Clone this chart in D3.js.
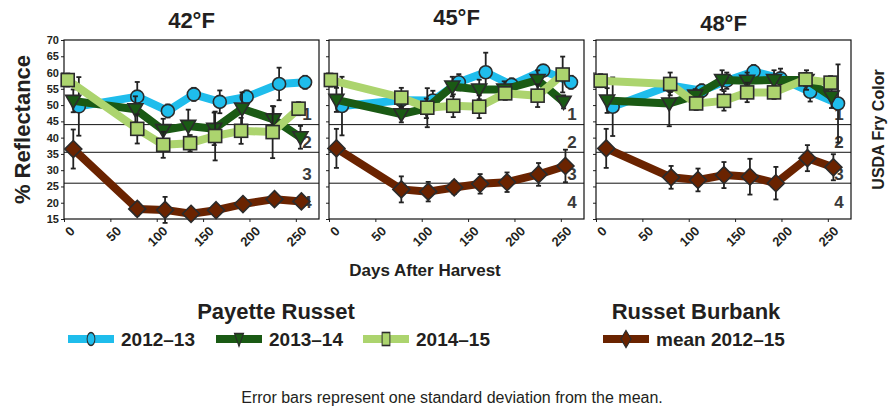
<!DOCTYPE html>
<html lang="en">
<head>
    <meta charset="UTF-8">
    <title>Fry color reflectance</title>
    <script src="https://cdn.jsdelivr.net/npm/d3@7/dist/d3.min.js"></script>
    <style>
        body { margin: 0; background: #fff; }
        text { font-family: "Liberation Sans", Arial, sans-serif; fill: #231f20; }
    </style>
</head>
<body>
<script>
// panel titles (storage temperature)
var panels = ["42°F", "45°F", "48°F"];
var xTicks = [0, 50, 100, 150, 200, 250];
var yTicks = [15, 20, 25, 30, 35, 40, 45, 50, 55, 60, 65, 70];

// USDA fry color zone borders and labels
var zoneLines = [44, 35.5, 26];
var zoneNames = ["1", "2", "3", "4"];
var zoneLabelY = [47.3, 38.8, 29, 20.3];

// Payette Russet 2012-13
var dayBlue = [[16, 79, 112, 140, 168, 197, 232, 260], [14, 78, 112, 140, 169, 197, 231, 261], [18, 80, 114, 141, 170, 199, 231, 261]];
var valBlue = [[49.6, 52.6, 48.2, 53.3, 51.0, 52.5, 56.5, 57.0], [49.7, 51.5, 51.4, 57.0, 60.1, 56.2, 60.6, 57.0], [49.5, 56.0, 54.4, 57.5, 60.3, 58.2, 54.1, 50.5]];
var errBlue = [[9, 4.5, 2, 2, 3.5, 2, 5, 2], [9, 2, 3, 2.5, 6, 2, 1.5, 2], [9, 2, 2, 2.5, 2, 3, 3, 12]];

// Payette Russet 2013-14
var dayDark = [[10, 77, 107, 134, 162, 192, 226, 255], [8, 78, 105, 133, 162, 189, 225, 253], [12, 79, 107, 136, 163, 192, 227, 254]];
var valDark = [[51.3, 48.7, 42.3, 43.6, 42.7, 48.9, 45.6, 40.1], [51.6, 47.2, 49.0, 55.7, 54.8, 54.8, 57.7, 51.0], [51.4, 50.5, 52.9, 57.7, 57.5, 57.7, 57.7, 52.6]];
var errDark = [[3.5, 4, 3.5, 5, 5, 5, 4, 3.5], [3.7, 2.5, 3, 3, 3, 2.5, 3, 2], [3.8, 7, 2, 3, 2.5, 3, 3, 3.5]];

// Payette Russet 2014-15
var dayLight = [[4, 79, 107, 136, 163, 191, 225, 253], [2, 78, 106, 134, 162, 190, 225, 252], [5, 80, 108, 138, 163, 192, 226, 253]];
var valLight = [[57.7, 42.7, 37.8, 38.3, 40.5, 42.1, 41.7, 48.9], [57.7, 52.3, 49.2, 49.8, 49.5, 53.6, 52.9, 59.4], [57.5, 56.5, 50.5, 51.3, 53.9, 53.9, 57.9, 56.9]];
var errLight = [[2, 4.5, 4, 2.5, 7.5, 4, 8, 2], [2, 3, 6, 3.5, 3.5, 2, 3.5, 5.5], [2, 3.5, 2, 3, 3, 2, 2, 2]];

// Russet Burbank mean 2012-15
var dayBrown = [[10, 79, 109, 137, 164, 193, 227, 256], [8, 78, 107, 135, 163, 192, 226, 255], [11, 81, 110, 138, 166, 194, 228, 256]];
var valBrown = [[36.5, 18.1, 17.8, 16.6, 17.7, 19.6, 21.1, 20.4], [36.7, 24.1, 23.4, 24.7, 25.8, 26.3, 28.7, 31.3], [36.7, 27.8, 27.0, 28.5, 28.0, 26.0, 33.7, 30.9]];
var errBrown = [[6, 2, 4, 1.5, 1.5, 1.5, 1.5, 1.5], [6, 4, 3, 2, 3, 3, 3.5, 5], [6, 3.5, 3.5, 4, 5.5, 5, 4, 4]];

var width = 895, height = 408;
var plotTop = 40, plotBottom = 219, plotW = 255;
var lefts = [64, 329, 596];

var series = [
    {name: "2012\u201313", color: "#1fbdec", shape: "circle", days: dayBlue, vals: valBlue, errs: errBlue},
    {name: "2013\u201314", color: "#1a5a14", shape: "triangle", days: dayDark, vals: valDark, errs: errDark},
    {name: "2014\u201315", color: "#acd46e", shape: "square", days: dayLight, vals: valLight, errs: errLight},
    {name: "mean 2012\u201315", color: "#6a2300", shape: "diamond", days: dayBrown, vals: valBrown, errs: errBrown}
];

var svg = d3.select("body").append("svg")
    .attr("width", width)
    .attr("height", height);

var y = d3.scaleLinear().domain([15, 70]).range([plotBottom, plotTop]);

function marker(g, shape, color) {
    if (shape == "circle") {
        g.append("circle").attr("r", 6.5);
    } else if (shape == "triangle") {
        g.append("path").attr("d", "M-7.5,-5.5L7.5,-5.5L0,7.5Z");
    } else if (shape == "square") {
        g.append("rect").attr("x", -6.5).attr("y", -6.5).attr("width", 13).attr("height", 13);
    } else {
        g.append("path").attr("d", "M0,-8.5L8.5,0L0,8.5L-8.5,0Z");
    }
    g.selectAll("*")
        .attr("fill", color)
        .attr("stroke", "#2b2b2b")
        .attr("stroke-width", 1.6);
}

panels.forEach(function (title, p) {
    var x = d3.scaleLinear().domain([0, 275]).range([lefts[p], lefts[p] + plotW]);
    var g = svg.append("g");

    // zone lines
    g.selectAll(".zone")
        .data(zoneLines)
        .enter().append("line")
        .attr("x1", lefts[p]).attr("x2", lefts[p] + plotW)
        .attr("y1", function (d) { return y(d); })
        .attr("y2", function (d) { return y(d); })
        .attr("stroke", "#111")
        .attr("stroke-width", 1);

    g.selectAll(".zlab")
        .data(zoneNames)
        .enter().append("text")
        .attr("x", lefts[p] + plotW - 12)
        .attr("y", function (d, i) { return y(zoneLabelY[i]); })
        .attr("dy", "0.36em")
        .attr("text-anchor", "middle")
        .style("font-size", "17px")
        .style("font-weight", "bold")
        .style("fill", "#3a3a3a")
        .text(function (d) { return d; });

    // axes
    var xAxis = g.append("g")
        .attr("transform", "translate(0," + plotBottom + ")")
        .call(d3.axisBottom(x).tickValues(xTicks).tickSize(3).tickSizeOuter(0));
    xAxis.selectAll("text")
        .attr("transform", "rotate(-45)")
        .attr("text-anchor", "end")
        .attr("dx", "-0.1em")
        .attr("dy", "0.85em")
        .style("font-size", "13px")
        .style("font-weight", "bold");

    var yAxis = g.append("g")
        .attr("transform", "translate(" + lefts[p] + ",0)")
        .call(d3.axisLeft(y).tickValues(yTicks).tickSize(3).tickSizeOuter(0));
    yAxis.selectAll("text")
        .style("font-size", "11px")
        .style("font-weight", "bold")
        .attr("x", -5);
    if (p > 0) yAxis.selectAll("text").remove();
    g.selectAll(".domain").remove();
    g.selectAll(".tick line").attr("stroke", "#222");

    g.append("rect")
        .attr("x", lefts[p]).attr("y", plotTop)
        .attr("width", plotW).attr("height", plotBottom - plotTop)
        .attr("fill", "none")
        .attr("stroke", "#111")
        .attr("stroke-width", 1.2);

    g.append("text")
        .attr("x", lefts[p] + plotW / 2)
        .attr("y", [28, 25, 31][p])
        .attr("text-anchor", "middle")
        .style("font-size", "22px")
        .style("font-weight", "bold")
        .text(title);

    // series
    series.forEach(function (s) {
        var pts = s.days[p].map(function (d, i) {
            return {day: d, val: s.vals[p][i], err: s.errs[p][i]};
        });
        var line = d3.line()
            .x(function (d) { return x(d.day); })
            .y(function (d) { return y(d.val); });

        g.append("path")
            .datum(pts)
            .attr("d", line)
            .attr("fill", "none")
            .attr("stroke", s.color)
            .attr("stroke-width", 8)
            .attr("stroke-linejoin", "round");

        var eb = g.selectAll(null)
            .data(pts)
            .enter().append("g")
            .attr("stroke", "#222")
            .attr("stroke-width", 1.8);
        eb.append("line")
            .attr("x1", function (d) { return x(d.day); })
            .attr("x2", function (d) { return x(d.day); })
            .attr("y1", function (d) { return y(d.val + d.err); })
            .attr("y2", function (d) { return y(d.val - d.err); });
        eb.append("line")
            .attr("x1", function (d) { return x(d.day) - 2.5; })
            .attr("x2", function (d) { return x(d.day) + 2.5; })
            .attr("y1", function (d) { return y(d.val + d.err); })
            .attr("y2", function (d) { return y(d.val + d.err); });
        eb.append("line")
            .attr("x1", function (d) { return x(d.day) - 2.5; })
            .attr("x2", function (d) { return x(d.day) + 2.5; })
            .attr("y1", function (d) { return y(d.val - d.err); })
            .attr("y2", function (d) { return y(d.val - d.err); });

        g.selectAll(null)
            .data(pts)
            .enter().append("g")
            .attr("transform", function (d) { return "translate(" + x(d.day) + "," + y(d.val) + ")"; })
            .each(function () { marker(d3.select(this), s.shape, s.color); });
    });
});

// axis titles
svg.append("text")
    .attr("transform", "translate(30," + ((plotTop + plotBottom) / 2) + ") rotate(-90)")
    .attr("text-anchor", "middle")
    .style("font-size", "22px")
    .style("font-weight", "bold")
    .text("% Reflectance");

svg.append("text")
    .attr("transform", "translate(884," + ((plotTop + plotBottom) / 2) + ") rotate(-90)")
    .attr("text-anchor", "middle")
    .style("font-size", "16px")
    .style("font-weight", "bold")
    .text("USDA Fry Color");

svg.append("text")
    .attr("x", 425).attr("y", 276)
    .attr("text-anchor", "middle")
    .style("font-size", "17px")
    .style("font-weight", "bold")
    .text("Days After Harvest");

// legend
svg.append("text")
    .attr("x", 276).attr("y", 319)
    .attr("text-anchor", "middle")
    .style("font-size", "22px")
    .style("font-weight", "bold")
    .text("Payette Russet");

svg.append("text")
    .attr("x", 696).attr("y", 319)
    .attr("text-anchor", "middle")
    .style("font-size", "22px")
    .style("font-weight", "bold")
    .text("Russet Burbank");

var legendX = [68, 216, 363, 603];
series.forEach(function (s, i) {
    var lg = svg.append("g").attr("transform", "translate(" + legendX[i] + ",339)");
    lg.append("line")
        .attr("x1", 0).attr("x2", 46)
        .attr("stroke", s.color)
        .attr("stroke-width", 8);
    var m = lg.append("g").attr("transform", "translate(23,0) scale(0.6,1)");
    marker(m, s.shape, s.color);
    lg.append("text")
        .attr("x", 53).attr("dy", "0.36em")
        .style("font-size", "19px")
        .style("font-weight", "bold")
        .text(s.name);
});

svg.append("text")
    .attr("x", 452).attr("y", 403)
    .attr("text-anchor", "middle")
    .style("font-size", "16px")
    .text("Error bars represent one standard deviation from the mean.");
</script>
</body>
</html>
